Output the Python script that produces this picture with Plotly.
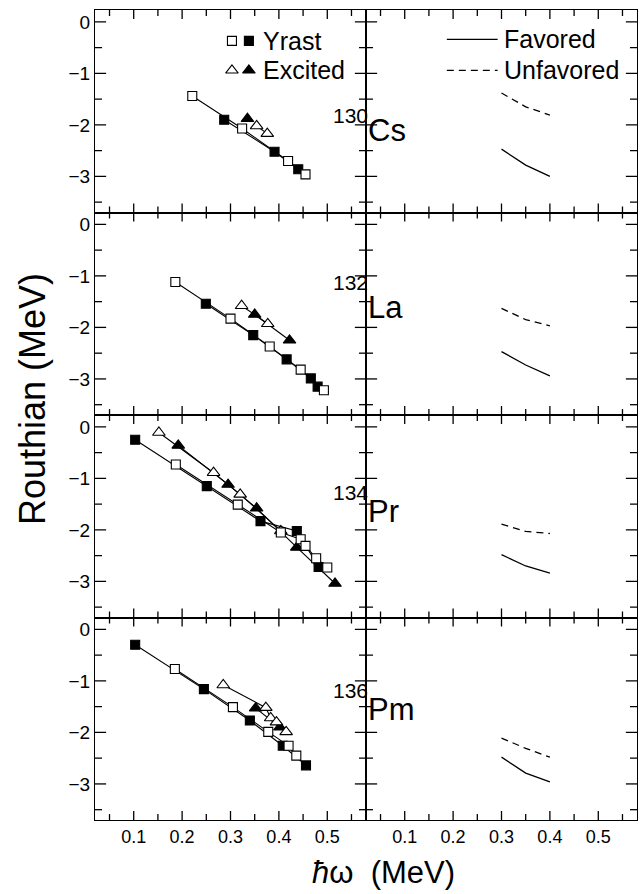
import plotly.graph_objects as go
from plotly.subplots import make_subplots

# Isotopes (mass number, element) shown in each row
mass_numbers = ["130", "132", "134", "136"]
elements = ["Cs", "La", "Pr", "Pm"]

# Experimental Routhians (left column): Yrast band, both signatures
yrast_open_x = [
    [0.221, 0.324, 0.419, 0.455],
    [0.186, 0.300, 0.381, 0.445, 0.493],
    [0.187, 0.315, 0.404, 0.445, 0.455, 0.477, 0.500],
    [0.185, 0.305, 0.378, 0.420, 0.436],
]
yrast_open_y = [
    [-1.44, -2.07, -2.70, -2.96],
    [-1.12, -1.83, -2.37, -2.82, -3.22],
    [-0.73, -1.51, -2.05, -2.18, -2.31, -2.55, -2.73],
    [-0.77, -1.51, -1.99, -2.26, -2.45],
]
yrast_filled_x = [
    [0.287, 0.391, 0.440],
    [0.249, 0.347, 0.416, 0.466, 0.480],
    [0.103, 0.251, 0.362, 0.437, 0.482],
    [0.103, 0.245, 0.340, 0.408, 0.456],
]
yrast_filled_y = [
    [-1.90, -2.52, -2.86],
    [-1.54, -2.15, -2.62, -2.99, -3.15],
    [-0.25, -1.15, -1.83, -2.02, -2.72],
    [-0.30, -1.16, -1.77, -2.26, -2.64],
]

# Excited band, both signatures
excited_open_x = [
    [0.354, 0.376],
    [0.323, 0.377],
    [0.152, 0.265, 0.320, 0.404],
    [0.285, 0.373, 0.383, 0.395, 0.415],
]
excited_open_y = [
    [-2.02, -2.17],
    [-1.58, -1.93],
    [-0.11, -0.89, -1.31, -2.02],
    [-1.08, -1.52, -1.72, -1.80, -1.99],
]
excited_filled_x = [
    [0.335],
    [0.350, 0.422],
    [0.192, 0.295, 0.354, 0.437, 0.516],
    [0.352, 0.402],
]
excited_filled_y = [
    [-1.88],
    [-1.75, -2.25],
    [-0.36, -1.12, -1.58, -2.34, -3.04],
    [-1.53, -1.90],
]

# Calculated Routhians (right column)
calc_x = [0.30, 0.35, 0.40]
favored_y = [
    [-2.47, -2.78, -3.00],
    [-2.47, -2.73, -2.94],
    [-2.48, -2.70, -2.84],
    [-2.48, -2.79, -2.96],
]
unfavored_y = [
    [-1.38, -1.65, -1.81],
    [-1.63, -1.85, -1.97],
    [-1.89, -2.03, -2.07],
    [-2.11, -2.31, -2.48],
]

# Axis settings and tick positions
x_range = [0.02, 0.58]
y_range = [-3.7, 0.23]
x_major = [0.1, 0.2, 0.3, 0.4, 0.5]
x_minor = [0.05, 0.15, 0.25, 0.35, 0.45, 0.55]
y_major = [0, -1, -2, -3]
y_minor = [-0.5, -1.5, -2.5, -3.5]

FONT = "Liberation Sans, Arial, Helvetica, sans-serif"
BLACK = "black"
MS = 9

fig = make_subplots(rows=4, cols=2, horizontal_spacing=0, vertical_spacing=0)


def marker_trace(x, y, symbol, filled, row, col, size=MS):
    fig.add_trace(
        go.Scatter(
            x=x, y=y, mode="lines+markers",
            line=dict(color=BLACK, width=1.1),
            marker=dict(symbol=symbol, size=size,
                        color=BLACK if filled else "white",
                        line=dict(color=BLACK, width=1.1)),
            showlegend=False, hoverinfo="skip",
        ),
        row=row, col=col,
    )


# Inward tick marks on all four edges of a panel, drawn as short segments.
# Lengths are in axis units (about 9/6 px for x ticks, 11/7 px for y ticks).
X_MAJ_LEN, X_MIN_LEN = 0.175, 0.115
Y_MAJ_LEN, Y_MIN_LEN = 0.023, 0.0145


def tick_trace(row, col):
    xs, ys = [], []
    y_lo, y_hi = y_range
    x_lo, x_hi = x_range
    for vals, ln in ((x_major, X_MAJ_LEN), (x_minor, X_MIN_LEN)):
        for v in vals:
            xs += [v, v, None, v, v, None]
            ys += [y_lo, y_lo + ln, None, y_hi, y_hi - ln, None]
    for vals, ln in ((y_major, Y_MAJ_LEN), (y_minor, Y_MIN_LEN)):
        for v in vals:
            xs += [x_lo, x_lo + ln, None, x_hi, x_hi - ln, None]
            ys += [v, v, None, v, v, None]
    fig.add_trace(go.Scatter(x=xs, y=ys, mode="lines",
                             line=dict(color=BLACK, width=1.3),
                             connectgaps=False, showlegend=False, hoverinfo="skip"),
                  row=row, col=col)


for i in range(4):
    r = i + 1
    tick_trace(r, 1)
    tick_trace(r, 2)
    # left column: experimental bands
    marker_trace(excited_filled_x[i], excited_filled_y[i], "triangle-up", True, r, 1, MS + 2)
    marker_trace(excited_open_x[i], excited_open_y[i], "triangle-up", False, r, 1, MS + 2)
    marker_trace(yrast_filled_x[i], yrast_filled_y[i], "square", True, r, 1)
    marker_trace(yrast_open_x[i], yrast_open_y[i], "square", False, r, 1)
    # right column: calculations
    fig.add_trace(go.Scatter(x=calc_x, y=favored_y[i], mode="lines",
                             line=dict(color=BLACK, width=1.3),
                             showlegend=False, hoverinfo="skip"), row=r, col=2)
    fig.add_trace(go.Scatter(x=calc_x, y=unfavored_y[i], mode="lines",
                             line=dict(color=BLACK, width=1.3, dash="7px,5px"),
                             showlegend=False, hoverinfo="skip"), row=r, col=2)

# Key for the experimental bands (top-left panel)
key_sym_x = [0.303, 0.338]
key_row_y = [-0.37, -0.94]
marker_trace([key_sym_x[0]], [key_row_y[0]], "square", False, 1, 1)
marker_trace([key_sym_x[1]], [key_row_y[0]], "square", True, 1, 1)
marker_trace([key_sym_x[0]], [key_row_y[1]], "triangle-up", False, 1, 1, MS + 2)
marker_trace([key_sym_x[1]], [key_row_y[1]], "triangle-up", True, 1, 1, MS + 2)
for txt, yy in zip(["Yrast", "Excited"], key_row_y):
    fig.add_annotation(x=0.362, y=yy, xref="x", yref="y", text=txt,
                       showarrow=False, xanchor="left", yanchor="middle",
                       font=dict(family=FONT, size=25, color=BLACK))

# Key for the calculations (top-right panel)
key_line_x = [0.187, 0.292]
fig.add_trace(go.Scatter(x=key_line_x, y=[-0.34, -0.34], mode="lines",
                         line=dict(color=BLACK, width=1.3),
                         showlegend=False, hoverinfo="skip"), row=1, col=2)
fig.add_trace(go.Scatter(x=key_line_x, y=[-0.94, -0.94], mode="lines",
                         line=dict(color=BLACK, width=1.3, dash="7px,5px"),
                         showlegend=False, hoverinfo="skip"), row=1, col=2)
for txt, yy in zip(["Favored", "Unfavored"], [-0.34, -0.94]):
    fig.add_annotation(x=0.302, y=yy, xref="x2", yref="y2", text=txt,
                       showarrow=False, xanchor="left", yanchor="middle",
                       font=dict(family=FONT, size=25, color=BLACK))

# Isotope labels straddling the column divider: mass number raised, element after it
mass_label_y = [-1.82, -1.12, -1.27, -1.19]
element_label_y = [-2.10, -1.62, -1.64, -1.56]
left_yrefs = ["y", "y3", "y5", "y7"]
for i in range(4):
    fig.add_annotation(x=0.505, y=mass_label_y[i], xref="paper", yref=left_yrefs[i],
                       text=mass_numbers[i], showarrow=False,
                       xanchor="right", yanchor="middle", borderpad=0,
                       font=dict(family=FONT, size=21, color=BLACK))
    fig.add_annotation(x=0.501, y=element_label_y[i], xref="paper", yref=left_yrefs[i],
                       text=elements[i], showarrow=False,
                       xanchor="left", yanchor="middle", borderpad=0,
                       font=dict(family=FONT, size=31, color=BLACK))

# Axes: framed panels, labels only on the outer edges
fig.update_xaxes(
    range=x_range, tickmode="array", tickvals=x_major, ticktext=[f"{v:.1f}" for v in x_major],
    ticks="", showline=True, linecolor=BLACK, linewidth=1.1, mirror=True,
    showgrid=False, zeroline=False,
    tickfont=dict(family=FONT, size=18, color=BLACK),
)
fig.update_yaxes(
    range=y_range, tickmode="array", tickvals=y_major,
    ticktext=["0" if v == 0 else f"\u2212{abs(v)}" for v in y_major],
    ticks="", showline=True, linecolor=BLACK, linewidth=1.1, mirror=True,
    showgrid=False, zeroline=False,
    tickfont=dict(family=FONT, size=19, color=BLACK),
)
for r in range(1, 4):
    fig.update_xaxes(showticklabels=False, row=r)
fig.update_yaxes(showticklabels=False, col=2)

# Axis titles
fig.add_annotation(x=-0.114, y=0.52, xref="paper", yref="paper",
                   text="Routhian (MeV)", textangle=-90, showarrow=False,
                   xanchor="center", yanchor="middle",
                   font=dict(family=FONT, size=36, color=BLACK))
fig.add_annotation(x=0.533, y=-0.065, xref="paper", yref="paper",
                   text="<i>\u0127</i>\u03c9  (MeV)", showarrow=False,
                   xanchor="center", yanchor="middle",
                   font=dict(family=FONT, size=31, color=BLACK))

fig.update_layout(
    width=643, height=894,
    margin=dict(l=95, r=6, t=10, b=74),
    paper_bgcolor="white", plot_bgcolor="white",
    showlegend=False,
)

fig.write_html("out.html")
